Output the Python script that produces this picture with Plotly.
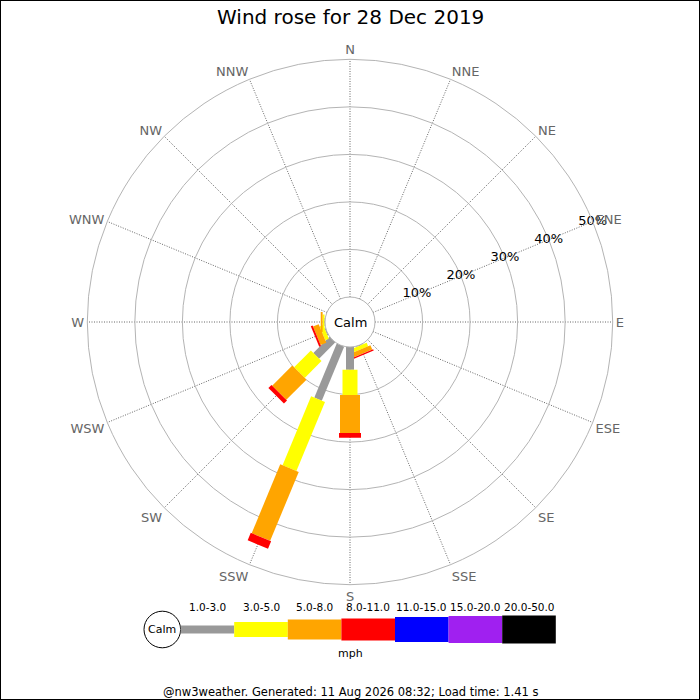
import plotly.graph_objects as go

# compass points, clockwise from north
directions = ["N", "NNE", "NE", "ENE", "E", "ESE", "SE", "SSE",
              "S", "SSW", "SW", "WSW", "W", "WNW", "NW", "NNW"]
angles = [i * 22.5 for i in range(16)]

# percentage of time in each speed band, per direction
speed_bins = ["1.0-3.0", "3.0-5.0", "5.0-8.0", "8.0-11.0",
              "11.0-15.0", "15.0-20.0", "20.0-50.0"]
pct_1_3 = [0, 0, 0, 0, 0, 0, 0, 0.1, 4.8, 12.3, 4.8, 0.2, 0.1, 0, 0, 0]
pct_3_5 = [0, 0, 0, 0, 0, 0, 0, 0.8, 5.3, 15.7, 5.0, 0.8, 0.4, 0, 0, 0]
pct_5_8 = [0, 0, 0, 0, 0, 0, 0, 1.0, 8.0, 15.7, 6.0, 1.3, 0.4, 0, 0, 0]
pct_8_11 = [0, 0, 0, 0, 0, 0, 0, 0.3, 1.0, 1.7, 0.9, 0.4, 0, 0, 0, 0]
pct_11_15 = [0] * 16
pct_15_20 = [0] * 16
pct_20_50 = [0] * 16

ring_values = [10, 20, 30, 40, 50]

bands = [pct_1_3, pct_3_5, pct_5_8, pct_8_11, pct_11_15, pct_15_20, pct_20_50]
colors = ["#999999", "#ffff00", "#ffa500", "#ff0000", "#0000ff", "#a020f0", "#000000"]
widths = [8, 15, 20, 22, 25, 27, 28]

FONT = "DejaVu Sans"
W = H = 700
cx, cy = 350, 322          # rose centre, pixels from top-left
r_out, r_calm = 262.7, 25

fig = go.Figure()

for d, ang in enumerate(angles):
    start = 0
    for b, band in enumerate(bands):
        v = band[d]
        if v <= 0:
            continue
        fig.add_trace(go.Scatterpolar(
            r=[start, start + v], theta=[ang, ang], mode="lines",
            line=dict(color=colors[b], width=widths[b]),
            hoverinfo="skip", showlegend=False))
        start += v

# ring labels along the ENE spoke
fig.add_trace(go.Scatterpolar(
    r=ring_values, theta=[67.5] * len(ring_values), mode="text",
    text=["%d%%" % v for v in ring_values],
    textfont=dict(family=FONT, size=13, color="black"),
    cliponaxis=False, hoverinfo="skip", showlegend=False))

fig.update_layout(
    width=W, height=H,
    margin=dict(l=0, r=0, t=0, b=0),
    paper_bgcolor="white",
    font=dict(family=FONT, color="black"),
    polar=dict(
        domain=dict(x=[(cx - r_out) / W, (cx + r_out) / W],
                    y=[(H - cy - r_out) / H, (H - cy + r_out) / H]),
        hole=r_calm / r_out,
        bgcolor="white",
        radialaxis=dict(range=[0, 50], tickvals=ring_values, showticklabels=False,
                        showline=False, ticks="", gridcolor="#b4b4b4", gridwidth=1),
        angularaxis=dict(rotation=90, direction="clockwise", thetaunit="degrees",
                         tickmode="array", tickvals=angles, ticktext=directions,
                         ticks="", showline=True, linecolor="#b4b4b4", linewidth=1,
                         showgrid=True, gridcolor="#666666", griddash="1px,1.5px",
                         gridwidth=1,
                         tickfont=dict(family=FONT, size=13, color="#666666")),
    ),
)

annotations = [
    dict(text="Wind rose for 28 Dec 2019", x=0.5, y=1 - 17 / H,
         font=dict(size=20)),
    dict(text="Calm", x=cx / W, y=1 - cy / H, font=dict(size=13)),
    dict(text="mph", x=0.5, y=1 - 653 / H, font=dict(size=11)),
    dict(text="@nw3weather. Generated: 11 Aug 2026 08:32; Load time: 1.41 s",
         x=0.5, y=1 - 692 / H, font=dict(size=11.5)),
]

shapes = [dict(type="rect", xref="paper", yref="paper", x0=0, x1=1, y0=0, y1=1,
               line=dict(color="black", width=2))]

# speed legend under the rose
lx, ly, lr = 162.3, 629.5, 18.3
shapes.append(dict(type="circle", xref="paper", yref="paper",
                   x0=(lx - lr) / W, x1=(lx + lr) / W,
                   y0=1 - (ly + lr) / H, y1=1 - (ly - lr) / H,
                   line=dict(color="black", width=1), fillcolor="white"))
annotations.append(dict(text="Calm", x=lx / W, y=1 - ly / H, font=dict(size=11)))
box_w = 53.6
x = lx + lr
for b, label in enumerate(speed_bins):
    h = widths[b]
    shapes.append(dict(type="rect", xref="paper", yref="paper",
                       x0=x / W, x1=(x + box_w) / W,
                       y0=1 - (ly + h / 2) / H, y1=1 - (ly - h / 2) / H,
                       line=dict(width=0), fillcolor=colors[b]))
    annotations.append(dict(text=label, x=(x + box_w / 2) / W, y=1 - 606.5 / H,
                            font=dict(size=10.5)))
    x += box_w

for a in annotations:
    a.update(xref="paper", yref="paper", showarrow=False,
             xanchor="center", yanchor="middle")
fig.update_layout(annotations=annotations, shapes=shapes)

# page margin off so the figure sits at the window's top-left corner
fig.write_html("out.html", config={"displayModeBar": False},
               post_script="document.body.style.margin='0px';")
